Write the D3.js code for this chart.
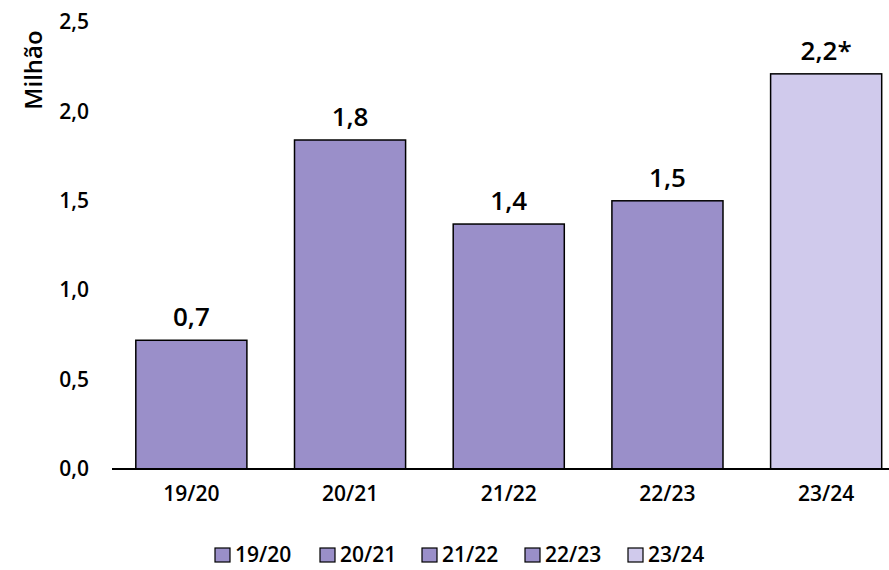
<!DOCTYPE html>
<html>
<head>
<meta charset="utf-8">
<script src="https://cdn.jsdelivr.net/npm/d3@7"></script>
<style>
  body { margin: 0; background: #fff; }
  text { font-family: "Open Sans", "Noto Sans", sans-serif; fill: #000; font-weight: 600; }
</style>
</head>
<body>
<div id="chart"></div>
<script>
var w = 889;
var h = 570;

// data
var seasons = ["19/20", "20/21", "21/22", "22/23", "23/24"];
var values = [0.72, 1.84, 1.37, 1.50, 2.21];
var labels = ["0,7", "1,8", "1,4", "1,5", "2,2*"];
var yTicks = [0, 0.5, 1, 1.5, 2, 2.5];
var colors = ["#9a8fc9", "#9a8fc9", "#9a8fc9", "#9a8fc9", "#d0caec"];

var fmt = function (d) { return d.toFixed(1).replace(".", ","); };

var svg = d3.select("#chart")
            .append("svg")
            .attr("width", w)
            .attr("height", h);

var x = d3.scaleBand()
          .domain(seasons)
          .range([112, 905.5])
          .paddingInner(0.3)
          .paddingOuter(0.15);

var y = d3.scaleLinear()
          .domain([0, 2.5])
          .range([469, 22]);

// y tick labels (no axis line)
var yAxis = d3.axisLeft(y)
              .tickValues(yTicks)
              .tickSize(0)
              .tickPadding(0)
              .tickFormat(fmt);

var gy = svg.append("g")
            .attr("transform", "translate(89,0)")
            .call(yAxis);
gy.select(".domain").remove();
gy.selectAll("text")
  .attr("font-size", 21)
  .attr("font-family", "'Open Sans', 'Noto Sans', sans-serif")
  .attr("fill", "#000");

svg.append("text")
   .attr("transform", "translate(42,70) rotate(-90)")
   .attr("text-anchor", "middle")
   .attr("font-size", 24)
   .text("Milhão");

// bars
svg.append("g")
   .selectAll("rect")
   .data(seasons)
   .enter()
   .append("rect")
   .attr("x", function (d) { return x(d); })
   .attr("width", x.bandwidth())
   .attr("y", function (d, i) { return y(values[i]); })
   .attr("height", function (d, i) { return y(0) - y(values[i]); })
   .attr("fill", function (d, i) { return colors[i]; })
   .attr("stroke", "#000")
   .attr("stroke-width", 1.5);

// value labels
svg.append("g")
   .selectAll("text")
   .data(seasons)
   .enter()
   .append("text")
   .attr("x", function (d) { return x(d) + x.bandwidth() / 2; })
   .attr("y", function (d, i) { return y(values[i]) - 14; })
   .attr("text-anchor", "middle")
   .attr("font-size", 26)
   .text(function (d, i) { return labels[i]; });

// x axis
var xAxis = d3.axisBottom(x)
              .tickSize(0)
              .tickPadding(17);

var gx = svg.append("g")
            .attr("transform", "translate(0," + y(0) + ")")
            .call(xAxis);
gx.select(".domain")
  .attr("d", "M112,0H889")
  .attr("stroke", "#000")
  .attr("stroke-width", 2);
gx.selectAll("text")
  .attr("font-size", 21)
  .attr("font-family", "'Open Sans', 'Noto Sans', sans-serif")
  .attr("fill", "#000");

// legend
var legendX = [215, 320, 422, 525, 628];
var lg = svg.append("g")
            .selectAll("g")
            .data(seasons)
            .enter()
            .append("g")
            .attr("transform", function (d, i) { return "translate(" + legendX[i] + ",555)"; });

lg.append("rect")
  .attr("x", 0)
  .attr("y", -7)
  .attr("width", 15)
  .attr("height", 14)
  .attr("fill", function (d, i) { return colors[i]; })
  .attr("stroke", "#000")
  .attr("stroke-width", 1.2);

lg.append("text")
  .attr("x", 20)
  .attr("y", 0)
  .attr("dy", "0.35em")
  .attr("font-size", 21)
  .text(function (d) { return d; });
</script>
</body>
</html>
